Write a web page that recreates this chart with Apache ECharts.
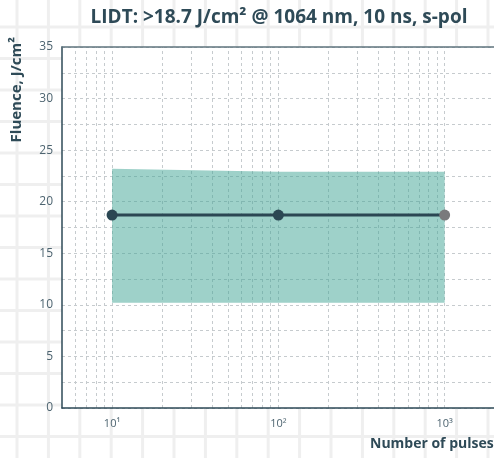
<!DOCTYPE html>
<html>
<head>
<meta charset="utf-8">
<script src="https://cdn.jsdelivr.net/npm/echarts@6/dist/echarts.min.js"></script>
<style>
  html, body { margin: 0; padding: 0; background: #fff; overflow: hidden; }
  #chart { width: 494px; height: 458px; }
</style>
</head>
<body>
<div id="chart"></div>
<script>
// Pulse counts and measured fluence (J/cm²)
const pulses = [10, 100, 1000];
const fluence = [18.7, 18.7, 18.7];
const bandLower = [10.2, 10.2, 10.2];
const bandUpper = [23.2, 22.9, 22.9];

// Axis ticks
const yTicks = [0, 5, 10, 15, 20, 25, 30, 35];
const xTickLabels = { 10: '10¹', 100: '10²', 1000: '10³' };
// Minor log grid positions
const xMinorLines = [6, 7, 8, 9, 10, 20, 30, 40, 50, 60, 70, 80, 90, 100,
  200, 300, 400, 500, 600, 700, 800, 900, 1000];

const DARK = '#2e4a57';
const FONT = '"Open Sans", "Noto Sans", sans-serif';

// Faint paper-style background lines
const bg = [];
for (let k = 0; k < 16; k++) {
  const x = 17 + 31.4 * k;
  bg.push({ type: 'line', z: -100, silent: true,
    shape: { x1: x, y1: 0, x2: x, y2: 458 },
    style: { stroke: '#efefef', lineWidth: 3 } });
}
for (let k = 0; k < 14; k++) {
  const y = 27 + 31.5 * k;
  bg.push({ type: 'line', z: -100, silent: true,
    shape: { x1: 0, y1: y, x2: 494, y2: y },
    style: { stroke: '#efefef', lineWidth: 3 } });
}

// Band rows: [pulses, lower, upper]
const bandRows = pulses.map((p, i) => [p, bandLower[i], bandUpper[i]]);

const chart = echarts.init(document.getElementById('chart'), null, { renderer: 'canvas' });

const xBase = {
  type: 'log', logBase: 10, min: 5, max: 3000,
  axisTick: { show: false },
  splitLine: { show: false }
};

chart.setOption({
  backgroundColor: '#fff',
  animation: false,
  title: {
    text: 'LIDT: >18.7 J/cm² @ 1064 nm, 10 ns, s-pol',
    left: 274,
    textAlign: 'center',
    top: 3,
    textStyle: { fontFamily: FONT, fontSize: 19, fontWeight: 'bold', color: DARK }
  },
  graphic: bg.concat([
    {
      type: 'text', left: 9, top: 37, rotation: Math.PI / 2, z: 10,
      style: { text: 'Fluence, J/cm²', font: 'bold 15px ' + FONT, fill: DARK }
    },
    {
      type: 'text', left: 370, top: 437, z: 10,
      style: { text: 'Number of pulses', font: 'bold 14px ' + FONT, fill: DARK }
    }
  ]),
  grid: {
    left: 62, top: 47, width: 462, bottom: 50,
    outerBoundsMode: 'none',
    containLabel: false,
    show: true, backgroundColor: '#fff', borderWidth: 0
  },
  xAxis: [
    Object.assign({}, xBase, {
      position: 'bottom',
      axisLine: { show: true, lineStyle: { color: DARK, width: 1.5 } },
      axisLabel: {
        fontFamily: FONT, fontSize: 11, color: '#4d6470', margin: 10,
        formatter: v => {
          const key = Math.round(v);
          return (Math.abs(v - key) < 1e-6 && xTickLabels[key]) ? xTickLabels[key] : '';
        }
      }
    }),
    Object.assign({}, xBase, {
      // top frame line
      position: 'top',
      axisLine: { show: true, lineStyle: { color: '#5f747e', width: 1.5 } },
      axisLabel: { show: false }
    })
  ],
  yAxis: {
    type: 'value', min: yTicks[0], max: yTicks[yTicks.length - 1], interval: 5,
    axisLine: { show: true, lineStyle: { color: DARK, width: 1.5 } },
    axisTick: { show: false },
    axisLabel: { fontFamily: FONT, fontSize: 12, color: '#4d6470', margin: 9 },
    splitLine: { show: true, lineStyle: { color: '#c6cbce', type: [3, 3], width: 1 } },
    minorTick: { show: false, splitNumber: 2 },
    minorSplitLine: { show: true, lineStyle: { color: '#c6cbce', type: [3, 3], width: 1 } }
  },
  series: [
    {
      // carries the vertical minor log grid lines
      name: 'grid-x',
      type: 'line',
      data: [],
      silent: true,
      z: 0,
      markLine: {
        silent: true,
        z: 0,
        symbol: 'none',
        label: { show: false },
        lineStyle: { color: '#c6cbce', type: [3, 3], width: 1 },
        data: xMinorLines.map(v => ({ xAxis: v }))
      }
    },
    {
      name: 'band',
      type: 'custom',
      data: bandRows,
      silent: true,
      z: 1,
      clip: true,
      renderItem: (params, api) => {
        if (params.dataIndex !== 0) return null;
        const top = bandRows.map(r => api.coord([r[0], r[2]]));
        const bottom = bandRows.slice().reverse().map(r => api.coord([r[0], r[1]]));
        return {
          type: 'polygon',
          shape: { points: top.concat(bottom) },
          style: { fill: 'rgba(62,164,148,0.5)' }
        };
      }
    },
    {
      name: 'LIDT',
      type: 'line',
      data: pulses.map((p, i) => ({
        value: [p, fluence[i]],
        itemStyle: i === pulses.length - 1 ? { color: '#7a7a7c' } : { color: '#2b4753' }
      })),
      symbol: 'circle',
      symbolSize: 11,
      lineStyle: { color: '#2b4753', width: 3 },
      itemStyle: { color: '#2b4753', borderWidth: 0 },
      z: 3
    }
  ]
});
</script>
</body>
</html>
